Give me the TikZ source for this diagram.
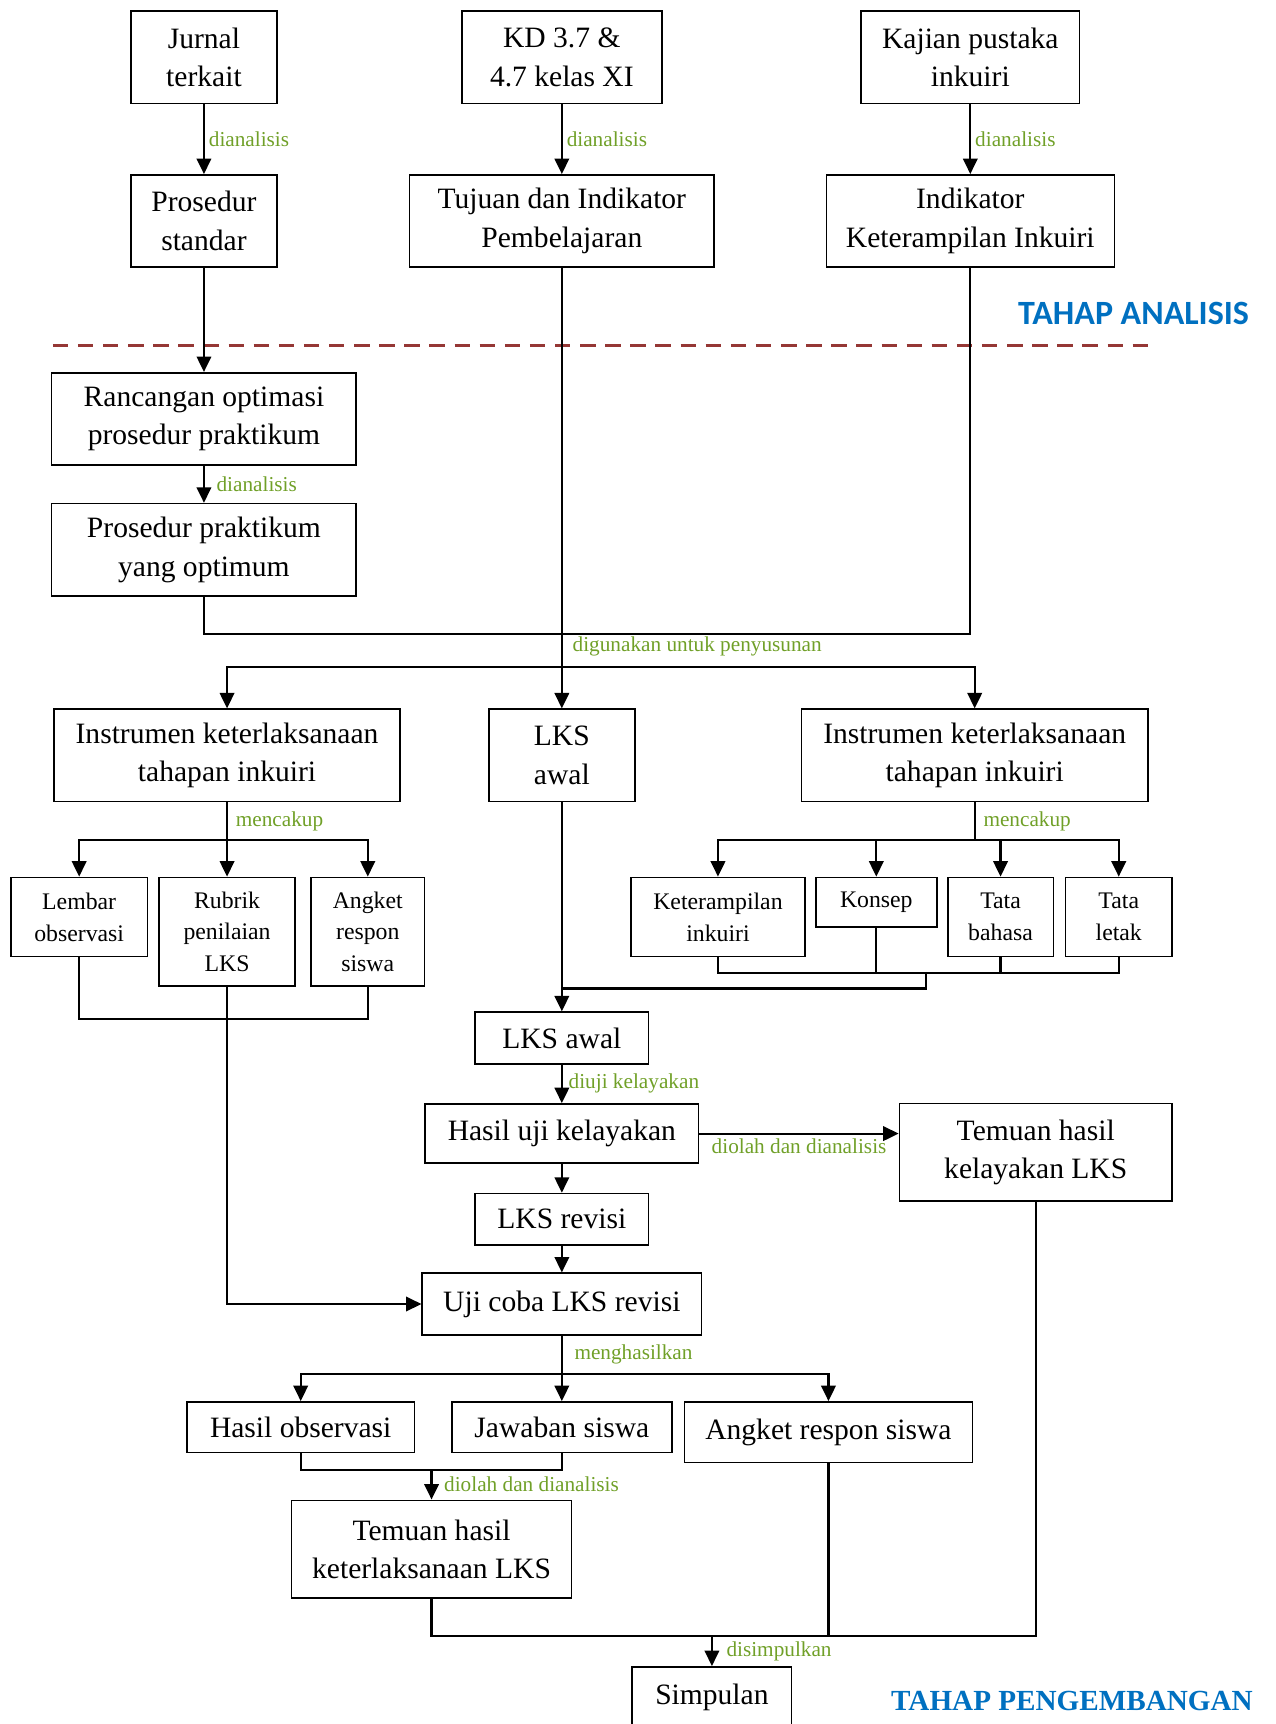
\documentclass[tikz,border=0pt]{standalone}
\usepackage{fontspec}
\setmainfont{Liberation Serif}
\newfontfamily\headfont{Carlito}
\usetikzlibrary{arrows.meta}
\definecolor{lblgreen}{RGB}{112,160,40}
\definecolor{tahapblue}{RGB}{0,112,192}
\definecolor{garisred}{RGB}{149,55,53}
\begin{document}
\begin{tikzpicture}[x=0.02cm,y=-0.02cm,
  box/.style={draw,line width=0.8pt,align=center,inner sep=0pt,font=\fontsize{15.3}{19.9}\selectfont},
  kecil/.style={box,font=\fontsize{12.3}{16.5}\selectfont},
  lbl/.style={text=lblgreen,font=\fontsize{11}{13}\selectfont,inner sep=2pt},
  panah/.style={-{Triangle[length=8pt,width=7.5pt]},line width=1.1pt},
  garis/.style={line width=1.1pt}]
  \useasboundingbox (0,0) rectangle (1160,1568);
  \node[box,minimum width=2.66cm,minimum height=1.68cm] (jurnal) at (185.5,52) {Jurnal\\terkait};
  \node[box,minimum width=3.64cm,minimum height=1.68cm] (kd) at (511,52) {KD 3.7 \&\\4.7 kelas XI};
  \node[box,minimum width=3.98cm,minimum height=1.68cm] (kajian) at (882.5,52) {Kajian pustaka\\inkuiri};
  \node[box,minimum width=2.66cm,minimum height=1.68cm] (prosedur) at (185.5,201) {Prosedur\\standar};
  \node[box,minimum width=5.54cm,minimum height=1.68cm] (tujuan) at (511,201) {Tujuan dan Indikator\\Pembelajaran};
  \node[box,minimum width=5.24cm,minimum height=1.68cm] (indikator) at (882.5,201) {Indikator\\Keterampilan Inkuiri};
  \draw[panah] (jurnal) -- (prosedur) node[midway,right,lbl] {dianalisis};
  \draw[panah] (kd) -- (tujuan) node[midway,right,lbl] {dianalisis};
  \draw[panah] (kajian) -- (indikator) node[midway,right,lbl] {dianalisis};
  \node[text=tahapblue,font=\headfont\bfseries\fontsize{17.6}{20}\selectfont] (analisis) at (1031,285) {TAHAP ANALISIS};
  \draw[garisred,line width=1.6pt,dash pattern=on 8pt off 5pt] (48,314) -- (1045,314);
  \node[box,minimum width=5.54cm,minimum height=1.68cm] (rancangan) at (185.5,381) {Rancangan optimasi\\prosedur praktikum};
  \node[box,minimum width=5.54cm,minimum height=1.68cm] (optimum) at (185.5,500) {Prosedur praktikum\\yang optimum};
  \draw[panah] (prosedur) -- (rancangan);
  \draw[panah] (rancangan) -- (optimum) node[midway,right,lbl,xshift=4pt] {dianalisis};
  \draw[garis] (optimum.south) -- ++(0,34) -| (indikator.south);
  \node[box,minimum width=6.3cm,minimum height=1.68cm] (instrA) at (206.5,687) {Instrumen keterlaksanaan\\tahapan inkuiri};
  \node[box,minimum width=2.66cm,minimum height=1.68cm] (lksA) at (511,687) {LKS\\awal};
  \node[box,minimum width=6.3cm,minimum height=1.68cm] (instrB) at (886.5,687) {Instrumen keterlaksanaan\\tahapan inkuiri};
  \draw[panah] (tujuan) -- (lksA);
  \node[lbl,anchor=west] (guna) at (517,588) {digunakan untuk penyusunan};
  \coordinate (sP) at (511,607);
  \draw[panah] (sP) -| (instrA.north);
  \draw[panah] (sP) -| (instrB.north);
  \node[kecil,minimum width=2.48cm,minimum height=1.44cm] (lembar) at (72,834) {Lembar\\observasi};
  \node[kecil,minimum width=2.48cm,minimum height=1.98cm] (rubrik) at (206.5,847.5) {Rubrik\\penilaian\\LKS};
  \node[kecil,minimum width=2.06cm,minimum height=1.98cm] (angketA) at (334.5,847.5) {Angket\\respon\\siswa};
  \draw[garis] (instrA.south) -- ++(0,34) coordinate (sA) node[midway,right,lbl,xshift=2pt] {mencakup};
  \draw[panah] (sA) -| (lembar.north);
  \draw[panah] (sA) -- (rubrik.north);
  \draw[panah] (sA) -| (angketA.north);
  \node[kecil,minimum width=3.16cm,minimum height=1.44cm] (keteramp) at (653,834) {Keterampilan\\inkuiri};
  \node[kecil,minimum width=2.2cm,minimum height=0.9cm] (konsep) at (797,820.5) {Konsep};
  \node[kecil,minimum width=1.92cm,minimum height=1.44cm] (tbahasa) at (910,834) {Tata\\bahasa};
  \node[kecil,minimum width=1.94cm,minimum height=1.44cm] (tletak) at (1017.5,834) {Tata\\letak};
  \draw[garis] (instrB.south) -- ++(0,34) coordinate (sB) node[midway,right,lbl,xshift=2pt] {mencakup};
  \draw[panah] (sB) -| (keteramp.north);
  \draw[panah] (sB) -| (konsep.north);
  \draw[panah] (sB) -| (tbahasa.north);
  \draw[panah] (sB) -| (tletak.north);
  \draw[garis] (lembar.south) -- ++(0,56) -| (angketA.south);
  \draw[garis] (keteramp.south) -- ++(0,14) coordinate (jB1) -| (tletak.south);
  \draw[garis] (konsep.south) -- (konsep.south |- jB1);
  \draw[garis] (tbahasa.south) -- (tbahasa.south |- jB1);
  \coordinate (jB2) at (842,884);
  \coordinate (jB3) at (511,899);
  \draw[garis] (jB2) |- (jB3);
  \node[box,minimum width=3.16cm,minimum height=0.94cm] (lksB) at (511,944) {LKS awal};
  \node[box,minimum width=4.98cm,minimum height=1.08cm] (hasiluji) at (511,1031) {Hasil uji kelayakan};
  \node[box,minimum width=4.96cm,minimum height=1.78cm] (temuanA) at (942,1048) {Temuan hasil\\kelayakan LKS};
  \node[box,minimum width=3.16cm,minimum height=0.94cm] (revisi) at (511,1109) {LKS revisi};
  \node[box,minimum width=5.08cm,minimum height=1.12cm] (ujicoba) at (511,1186) {Uji coba LKS revisi};
  \draw[panah] (lksA) -- (lksB);
  \draw[panah] (lksB) -- (hasiluji) node[midway,right,lbl,xshift=1pt] {diuji kelayakan};
  \draw[panah] (hasiluji.east) -- (hasiluji.east -| temuanA.west) node[midway,below,lbl] {diolah dan dianalisis};
  \draw[panah] (hasiluji) -- (revisi);
  \draw[panah] (revisi) -- (ujicoba);
  \draw[panah] (rubrik.south) |- (ujicoba.west);
  \node[box,minimum width=4.14cm,minimum height=0.92cm] (hasilobs) at (273.5,1298) {Hasil observasi};
  \node[box,minimum width=4.0cm,minimum height=0.92cm] (jawaban) at (511,1298) {Jawaban siswa};
  \node[box,minimum width=5.24cm,minimum height=1.1cm] (angketB) at (753.5,1302.5) {Angket respon siswa};
  \draw[garis] (ujicoba.south) -- ++(0,35) coordinate (sC) node[midway,right,lbl,xshift=4pt] {menghasilkan};
  \draw[panah] (sC) -| (hasilobs.north);
  \draw[panah] (sC) -- (jawaban.north);
  \draw[panah] (sC) -| (angketB.north);
  \node[box,minimum width=5.1cm,minimum height=1.78cm] (temuanB) at (392.5,1409) {Temuan hasil\\keterlaksanaan LKS};
  \draw[garis] (hasilobs.south) -- ++(0,15) coordinate (jC) -| (jawaban.south);
  \draw[panah] (jC -| temuanB.north) -- (temuanB.north) node[midway,right,lbl,xshift=4pt] {diolah dan dianalisis};
  \node[box,minimum width=2.9cm,minimum height=1.12cm] (simpulan) at (647.5,1544) {Simpulan};
  \draw[garis] (temuanB.south) -- ++(0,34) coordinate (jD) -| (temuanA.south);
  \draw[garis] (angketB.south) -- (angketB.south |- jD);
  \draw[panah] (jD -| simpulan.north) -- (simpulan.north) node[midway,right,lbl,xshift=5pt] {disimpulkan};
  \node[text=tahapblue,font=\bfseries\fontsize{15.1}{17}\selectfont] (pengembangan) at (975,1547) {TAHAP PENGEMBANGAN};
\end{tikzpicture}
\end{document}
